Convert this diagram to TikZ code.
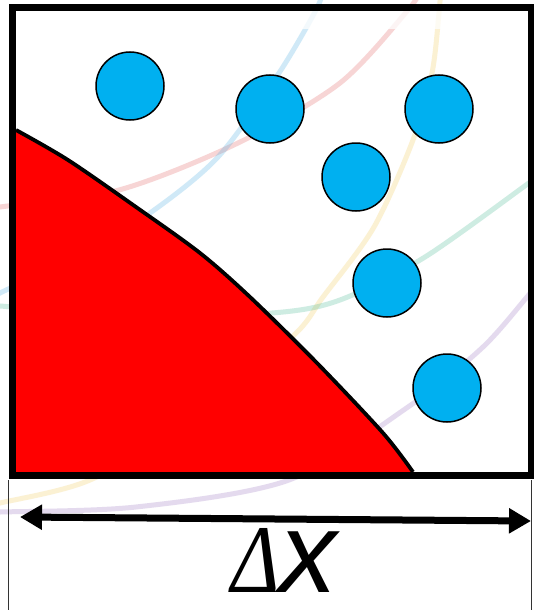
\documentclass[tikz,border=0pt]{standalone}
\usepackage[no-math]{fontspec}
\newfontfamily\deltafont{Liberation Serif}
\newfontfamily\xfont{Liberation Sans}
\usetikzlibrary{arrows.meta}
\definecolor{ballblue}{RGB}{0,176,240}
\definecolor{arcred}{RGB}{225,90,90}
\definecolor{arcblue}{RGB}{70,170,225}
\definecolor{arcyellow}{RGB}{240,200,80}
\definecolor{arcgreen}{RGB}{60,180,140}
\definecolor{arcpurple}{RGB}{150,110,190}
\begin{document}
\begin{tikzpicture}[x=1pt,y=-1pt,
  ball/.style={circle, fill=ballblue, draw=black, line width=1.5pt, minimum size=68pt, inner sep=0pt},
  faintarc/.style={line width=5pt, opacity=0.25},
  dimline/.style={line width=1.3pt, black!80},
  dimarrow/.style={line width=7pt, {Triangle[length=22pt,width=24pt]}-{Triangle[length=22pt,width=24pt]}}]
\useasboundingbox (0,0) rectangle (533,610);
\fill[white] (0,0) rectangle (533,610);
\begin{scope}
\clip (0,0) rectangle (533,610);
% faint background arcs
\draw[faintarc, arcred] plot[smooth] coordinates {(-30,212) (0,207) (119,190) (238,143) (340,83) (408,10) (422,-12)};
\draw[faintarc, arcblue] plot[smooth] coordinates {(-20,305) (0,293) (80,255) (150,213) (218,157) (279,73) (316,10) (324,-12)};
\draw[faintarc, arcyellow] plot[smooth] coordinates {(441,-15) (439,13) (432,73) (413,140) (374,227) (323,297) (292,337) (190,420) (90,480) (0,503) (-20,507)};
\draw[faintarc, arcgreen] plot[smooth] coordinates {(550,168) (533,180) (425,257) (340,300) (272,313) (140,316) (0,306) (-20,304)};
\draw[faintarc, arcpurple] plot[smooth] coordinates {(550,274) (533,290) (483,347) (408,407) (289,480) (136,507) (0,512) (-20,512)};
\end{scope}
% faded band at the top of the box
\fill[white, opacity=0.75] (16,11) rectangle (528,29);
% red region
\fill[red] plot[smooth, tension=0.5] coordinates {(16,130) (68,160) (136,207) (200,253) (250,297) (317,363) (383,433) (413,472)} -- (16,472) -- cycle;
\draw[line width=3.8pt] plot[smooth, tension=0.5] coordinates {(16,130) (68,160) (136,207) (200,253) (250,297) (317,363) (383,433) (413,472)};
% particles
\node[ball] (c1) at (130,86) {};
\node[ball] (c2) at (270,109) {};
\node[ball] (c3) at (439,109) {};
\node[ball] (c4) at (356,177) {};
\node[ball] (c5) at (387,283) {};
\node[ball] (c6) at (447,388) {};
% box
\draw[line width=7pt] (12.7,7.5) rectangle (531.5,475.5);
% dimension
\coordinate (dl1) at (8.5,480);
\coordinate (dl2) at (8.5,610);
\coordinate (dr1) at (531.5,480);
\coordinate (dr2) at (531.5,610);
\draw[dimline] (dl1) -- (dl2);
\draw[dimline] (dr1) -- (dr2);
\coordinate (aL) at (20,517);
\coordinate (aR) at (531,521);
\draw[dimarrow] (aL) -- (aR);
\node[anchor=base west, inner sep=0pt, text depth=0pt, text height=60pt] (dx) at (231,592) {\scalebox{0.85}[1]{\fontsize{97}{97}\deltafont\itshape Δ}\fontsize{115}{115}\xfont\itshape x};
\end{tikzpicture}
\end{document}
